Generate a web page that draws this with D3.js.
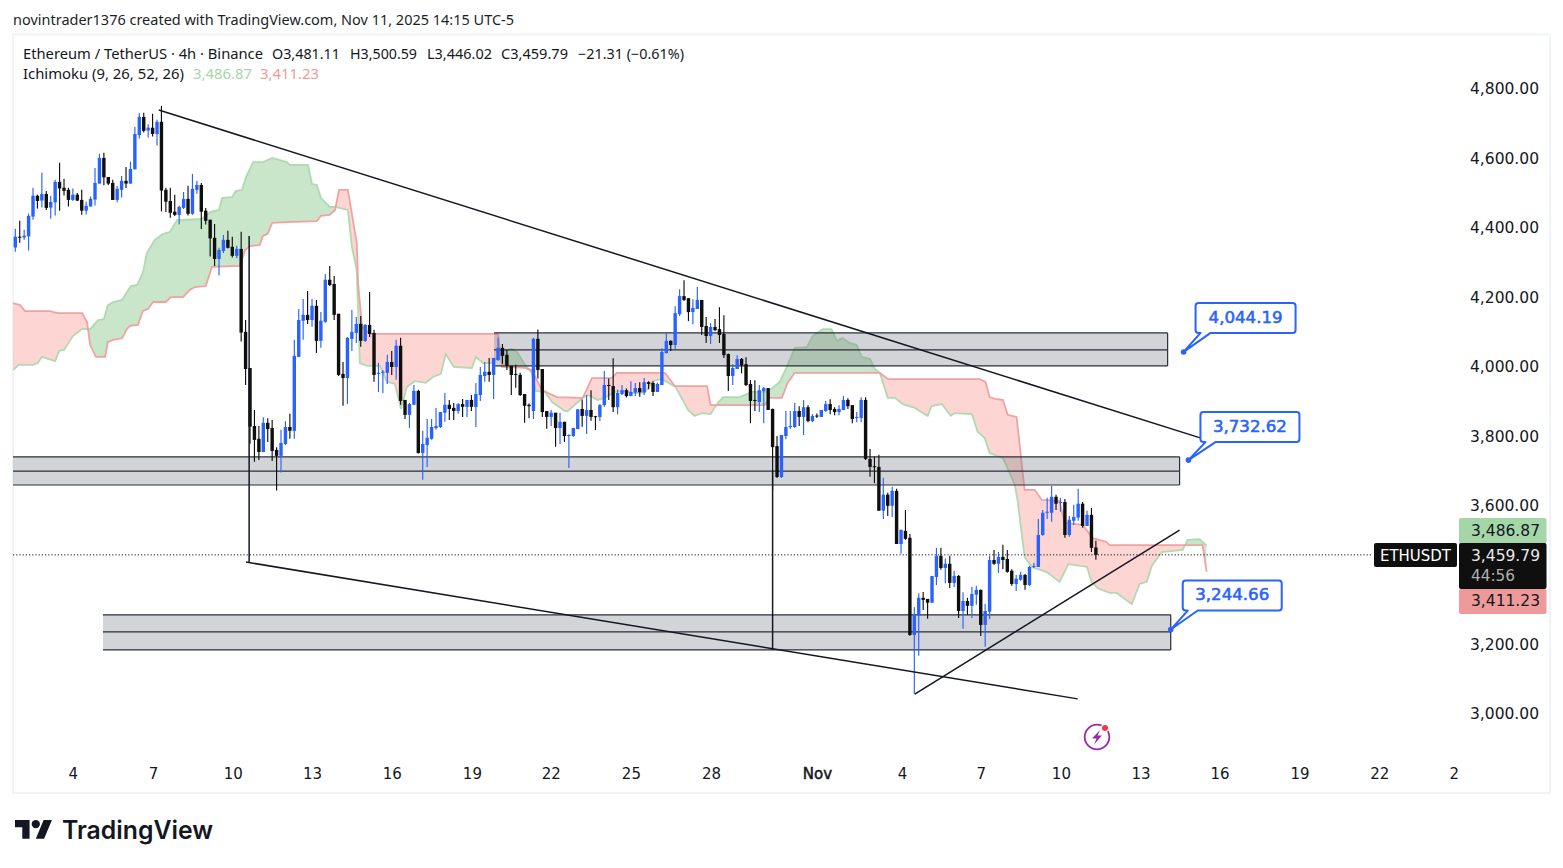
<!DOCTYPE html>
<html><head><meta charset="utf-8">
<script src="https://cdn.jsdelivr.net/npm/d3@7/dist/d3.min.js"></script>
<style>html,body{margin:0;padding:0;background:#fff;overflow:hidden}svg{display:block}</style>
</head><body><svg id="c" width="1563" height="868"></svg>
<script>
const opens=[4345,4376,4374,4377,4434,4494,4480,4499,4460,4475,4534,4517,4511,4482,4497,4482,4451,4463,4483,4529,4603,4548,4531,4482,4511,4537,4529,4570,4669,4721,4682,4690,4672,4707,4511,4479,4448,4439,4459,4485,4442,4511,4525,4451,4425,4373,4312,4335,4367,4347,4321,4341,4102,3998,3831,3794,3756,3840,3825,3762,3745,3779,3828,3817,4030,4134,4151,4136,4177,4076,4131,4252,4240,4154,3981,3969,4082,4099,4125,4076,4122,4099,3981,3984,3984,4015,4001,4062,3906,3863,3892,3932,3753,3776,3794,3825,3828,3869,3892,3883,3874,3894,3886,3906,3886,3920,3975,3987,3978,4021,4056,4036,4004,3981,3978,3923,3892,3874,4082,3995,3874,3857,3869,3825,3843,3802,3802,3822,3880,3860,3877,3859,3857,3891,3949,3946,3885,3923,3934,3917,3927,3940,3928,3957,3955,3929,3949,4041,4076,4064,4153,4205,4199,4159,4168,4194,4119,4090,4116,4110,4096,4038,3975,3995,4024,4009,3952,3906,3900,3931,3940,3880,3773,3684,3802,3828,3828,3874,3857,3885,3845,3861,3857,3874,3894,3880,3871,3877,3906,3891,3854,3854,3906,3736,3715,3713,3587,3633,3601,3644,3491,3529,3509,3229,3285,3336,3333,3322,3396,3457,3422,3434,3379,3399,3298,3327,3313,3345,3359,3258,3296,3445,3434,3454,3448,3414,3376,3388,3402,3373,3425,3425,3517,3581,3581,3627,3610,3612,3517,3558,3567,3607,3543,3575,3481.11];
const highs=[4399,4422,4396,4442,4517,4497,4560,4508,4494,4540,4589,4543,4517,4515,4502,4511,4477,4492,4574,4615,4618,4548,4540,4522,4551,4577,4592,4692,4732,4733,4700,4730,4713,4753,4517,4517,4497,4465,4505,4523,4557,4537,4531,4459,4425,4413,4344,4381,4393,4376,4350,4390,4136,3998,3877,3831,3856,3853,3848,3770,3820,3845,3866,4079,4168,4197,4220,4197,4194,4159,4269,4292,4263,4154,4015,4087,4165,4145,4148,4125,4217,4108,4013,3992,4036,4047,4079,4085,3906,3897,3949,3935,3817,3851,3851,3883,3871,3926,3906,3897,3897,3909,3906,3920,3955,4001,4015,4027,4027,4085,4067,4050,4004,4007,3984,3923,3896,4085,4109,3995,3874,3877,3869,3869,3843,3807,3826,3879,3907,3920,3934,3860,3894,3989,3968,4026,3936,3949,3939,3960,3955,3957,3969,3960,3960,3956,4055,4099,4078,4176,4225,4251,4199,4196,4231,4194,4145,4127,4139,4173,4150,4040,4009,4035,4027,4029,3963,3963,3949,3943,3940,3881,3802,3805,3874,3874,3897,3888,3906,3891,3865,3867,3877,3903,3908,3885,3891,3917,3911,3891,3871,3914,3914,3765,3743,3748,3682,3639,3656,3650,3532,3589,3520,3309,3349,3353,3332,3399,3480,3480,3449,3457,3414,3402,3352,3336,3368,3371,3360,3319,3457,3474,3468,3489,3474,3418,3402,3411,3405,3428,3437,3563,3589,3624,3658,3633,3624,3621,3572,3604,3650,3612,3587,3595,3500.59];
const lows=[4333,4359,4367,4336,4425,4457,4460,4453,4428,4437,4451,4495,4463,4479,4479,4439,4440,4463,4466,4529,4524,4525,4482,4475,4489,4516,4529,4570,4659,4676,4662,4665,4639,4449,4447,4431,4436,4411,4456,4437,4439,4500,4398,4411,4319,4292,4264,4329,4342,4316,4314,4074,3949,3780,3728,3733,3755,3785,3730,3645,3697,3776,3794,3794,4030,4079,4125,4117,4041,4056,4128,4234,4136,3975,3889,3894,4047,4070,4059,4073,4087,3958,3929,3926,3952,3978,3964,3892,3851,3825,3892,3752,3676,3713,3791,3820,3825,3843,3848,3848,3866,3857,3857,3874,3828,3903,3958,3958,3909,4018,4010,3992,3920,3941,3917,3840,3853,3851,3968,3857,3823,3831,3771,3779,3785,3710,3800,3822,3829,3808,3846,3819,3845,3886,3906,3871,3865,3920,3913,3917,3917,3915,3920,3937,3917,3929,3949,4040,4047,4052,4148,4191,4133,4124,4168,4093,4070,4067,4104,4070,4027,3932,3949,3995,3983,3946,3839,3874,3871,3839,3877,3646,3681,3681,3793,3822,3825,3831,3805,3842,3842,3854,3857,3871,3865,3862,3862,3877,3880,3839,3842,3842,3733,3685,3666,3586,3563,3572,3569,3491,3463,3503,3227,3059,3169,3301,3276,3321,3373,3417,3378,3364,3367,3278,3247,3287,3278,3316,3226,3195,3275,3431,3408,3418,3408,3371,3356,3385,3359,3370,3422,3425,3515,3563,3555,3589,3584,3509,3512,3546,3558,3538,3543,3468,3446.02];
const closes=[4376,4374,4379,4436,4494,4479,4499,4459,4476,4534,4515,4508,4482,4497,4480,4451,4465,4485,4531,4603,4547,4529,4482,4514,4537,4529,4571,4672,4721,4681,4690,4672,4707,4509,4477,4445,4439,4462,4485,4442,4514,4525,4448,4422,4371,4312,4338,4367,4344,4321,4341,4100,3995,3829,3791,3756,3840,3822,3759,3745,3782,3828,3817,4033,4136,4151,4136,4177,4076,4134,4252,4237,4151,3978,3969,4085,4102,4125,4076,4122,4096,3978,3984,3987,4015,4001,4062,3903,3863,3894,3932,3753,3779,3797,3828,3831,3871,3892,3880,3874,3894,3886,3906,3886,3923,3978,3987,3978,4027,4056,4033,4004,3978,3978,3920,3889,3888,4082,3992,3871,3857,3869,3825,3843,3802,3805,3825,3879,3860,3877,3857,3857,3891,3949,3946,3885,3926,3934,3917,3929,3940,3928,3957,3952,3929,3952,4044,4076,4064,4156,4205,4194,4159,4171,4194,4116,4090,4116,4107,4093,4035,3975,3998,4024,4006,3949,3903,3903,3934,3940,3877,3770,3684,3805,3828,3831,3874,3857,3885,3845,3860,3860,3877,3894,3877,3871,3880,3906,3888,3851,3857,3906,3736,3713,3713,3587,3633,3601,3644,3491,3532,3506,3229,3287,3336,3330,3322,3399,3457,3422,3434,3379,3399,3298,3327,3313,3347,3359,3258,3298,3445,3434,3454,3445,3411,3376,3391,3402,3373,3425,3428,3517,3581,3584,3627,3607,3612,3517,3561,3569,3607,3543,3575,3480,3459.79];

const spanABars=[0.5,1.8,5,6.1,7,10,10.9,12,14,16.1,17.9,19.7,21,21.9,23.1,25.1,26.2,27.1,28.5,29.8,30.7,32.5,34.3,35.9,37.5,43.1,45,47,47.7,49.9,50.8,52.2,53.1,54.7,56.9,59,62.3,63,67.1,68,69.1,70,72,73.2,76.1,77,78.1,78.8,80.4,83.3,84.9,86.7,88.1,89.4,91.2,93.7,95.3,97.1,98.2,100,104.1,105,106.6,108.8,110,111.1,113.1,114.3,116.1,117.6,118.5,120.6,122.2,125.1,125.8,129.1,130.3,132.5,134.1,136.4,138.2,140.4,143.1,145,146.5,147.4,150.1,152.9,154.4,156,158,159.6,160.8,164.6,167.3,170.7,171.4,173.6,175.2,177,179.7,181.1,183.3,185.3,186.5,187.8,189.4,191,192.1,194,195.1,196.2,198,199.6,201.4,204.1,207,207.9,210.2,212.2,213.1,217,218.3,219.9,221,224,226.7,227.3,228.9,230.5,233.9,236.8,238.8,243,244,245.4,248.1,249.7,253.1,254.9,256.5,257.6,259.9,264.6,265.7,268.4,270];
const spanAValues=[3992,4007,4007,4012,4030,4018,4047,4050,4090,4110,4110,4136,4139,4179,4188,4194,4217,4234,4237,4272,4329,4367,4384,4390,4424,4427,4447,4453,4488,4490,4508,4511,4548,4591,4591,4603,4591,4583,4583,4528,4525,4488,4462,4462,4453,4346,4280,4012,4004,4004,3958,3952,3880,3943,3960,3955,3972,3981,4038,4001,3998,4030,4012,4012,4030,4047,4053,4044,4007,3984,3932,3929,3900,3874,3874,3912,3920,3906,3912,3929,3932,3926,3926,3960,3966,3963,3943,3877,3860,3868,3865,3897,3914,3914,3929,3929,3935,3958,4001,4056,4058,4090,4110,4110,4076,4084,4070,4064,4030,4024,3995,3984,3912,3912,3894,3883,3860,3888,3894,3860,3868,3865,3814,3796,3753,3739,3661,3618,3454,3425,3410,3382,3433,3425,3382,3364,3350,3350,3318,3376,3382,3428,3468,3474,3503,3505,3486.87];
const spanBBars=[0.5,2.1,3.2,8.8,10.6,16.1,17.2,17.9,19.2,21.3,21.9,23.1,25.1,26.2,26.9,28.7,29.8,31,32.1,35,36.1,38.9,40.4,41.6,44,45.4,51.7,52.9,54,56.2,56.9,58,59,62.3,69.1,70,72,73.2,74.1,76.1,78.1,78.4,79.3,81.1,110,110.9,116.1,117.6,119.9,121.3,123.3,129.1,130,131.2,135.7,136.8,147.7,149.9,157.2,158,170.2,171.4,174.1,175.4,177,196.2,198,218.8,220.1,221,222.2,224,225.1,227.1,228.9,231.2,232.8,236.8,237.9,242,244.3,247.4,248.1,269.1,270];
const spanBValues=[4185,4179,4162,4162,4156,4156,4130,4064,4030,4030,4073,4079,4084,4110,4119,4122,4162,4168,4188,4188,4202,4202,4223,4231,4234,4289,4292,4338,4349,4352,4378,4384,4416,4418,4421,4436,4439,4453,4511,4511,4358,4243,4116,4096,4096,4001,3998,3992,3935,3926,3914,3912,3935,3969,3969,3984,3984,3946,3946,3891,3891,3912,3912,3955,3984,3984,3966,3966,3958,3914,3909,3906,3863,3857,3647,3647,3618,3615,3552,3546,3508,3497,3488,3488,3411.23];

const priceTicks=[3000,3200,3600,3800,4000,4200,4400,4600,4800];
const dayTickBars=[14,32.1,50.1,68,86,104.1,121.9,140,158.1,182,201.2,219,237.1,255.1,272.9,291,309,325.8];
const dayTickLabels=["4","7","10","13","16","19","22","25","28","Nov","4","7","10","13","16","19","22","2"];

const zoneBars=[[109.1,261.2],[0.5,263.9],[20.8,261.9]];
const zonePrices=[[4099,4050,4004],[3742,3701,3661],[3287,3238,3186]];
const trendLines=[[33.4,4741,270,3791],[53.1,3439,240.9,3045],[53.8,4378,53.8,3439],[172,3704,172,3186],[204.1,3059,263.9,3531]];
const calloutBars=[264.8,265.9,261.9];
const calloutPrices=[4044.19,3732.62,3244.66];
const lastClose=3459.79, spanALast=3486.87, spanBLast=3411.23;

const FONT='"Noto Sans",sans-serif', AXF='"DejaVu Sans",sans-serif';
const BLUE='#2962ff', BLACK='#0f0f0f';
const x=d3.scaleLinear().domain([1,270]).range([15.3,1206.6]);
const y=d3.scaleLinear().domain([3000,4800]).range([714.5,89.5]);
const svg=d3.select('#c');
svg.append('rect').attr('width',1563).attr('height',868).attr('fill','#fff');
svg.append('rect').attr('x',13).attr('y',34.5).attr('width',1537).attr('height',758.5).attr('fill','none').attr('stroke','#f0f3fa').attr('stroke-width',2);

function T(px,py,s,o={}){
  const t=svg.append('text').attr('x',px).attr('y',py).text(s)
    .attr('font-family',o.f||FONT).attr('font-size',o.s||14).attr('fill',o.c||'#131722')
    .attr('text-anchor',o.a||'start');
  if(o.w)t.attr('font-weight',o.w);
  if(o.sw)t.attr('stroke',o.c).attr('stroke-width',o.sw);
  if(o.len)t.attr('textLength',o.len).attr('lengthAdjust','spacingAndGlyphs');
  return t;
}
T(13,25,'novintrader1376 created with TradingView.com, Nov 11, 2025 14:15 UTC-5',{s:14,len:501,c:'#1c1f28'});
T(23,59,'Ethereum / TetherUS · 4h · Binance',{s:14,len:240});
T(272,59,'O3,481.11',{s:14,len:68});
T(350,59,'H3,500.59',{s:14,len:67});
T(427,59,'L3,446.02',{s:14,len:65});
T(501,59,'C3,459.79',{s:14,len:67});
T(578,59,'−21.31 (−0.61%)',{s:14,len:106});
T(23,79,'Ichimoku (9, 26, 52, 26)',{s:14,len:161});
T(193,79,'3,486.87',{s:14,len:59,c:'#a5d6a7'});
T(260,79,'3,411.23',{s:14,len:59,c:'#ef9a9a'});

const defs=svg.append('defs');
defs.append('clipPath').attr('id','plot').append('rect').attr('x',13).attr('y',36).attr('width',1360).attr('height',720);
const ptsA=spanABars.map((b,i)=>[b,spanAValues[i]]);
const ptsB=spanBBars.map((b,i)=>[b,spanBValues[i]]);
const above=d3.area().x(d=>x(d[0])).y0(0).y1(d=>y(d[1]));
const below=d3.area().x(d=>x(d[0])).y0(868).y1(d=>y(d[1]));
const line=d3.line().x(d=>x(d[0])).y(d=>y(d[1]));
defs.append('clipPath').attr('id','aboveB').append('path').attr('d',above(ptsB));
defs.append('clipPath').attr('id','aboveA').append('path').attr('d',above(ptsA));

const plot=svg.append('g').attr('clip-path','url(#plot)');
plot.append('g').attr('clip-path','url(#aboveB)').append('path').attr('d',below(ptsA)).attr('fill','rgba(165,214,167,0.6)');
plot.append('g').attr('clip-path','url(#aboveA)').append('path').attr('d',below(ptsB)).attr('fill','rgba(244,67,54,0.22)');
plot.append('path').attr('d',line(ptsA)).attr('fill','none').attr('stroke','#a5d6a7').attr('stroke-width',1.8).attr('opacity',.85);
plot.append('path').attr('d',line(ptsB)).attr('fill','none').attr('stroke','#ef9a9a').attr('stroke-width',1.8).attr('opacity',.9);

// zones
const zg=plot.append('g');
zonePrices.forEach((z,i)=>{
  const x0=x(zoneBars[i][0]),x1=x(zoneBars[i][1]);
  zg.append('rect').attr('x',x0).attr('y',y(z[0])).attr('width',x1-x0).attr('height',y(z[2])-y(z[0]))
    .attr('fill','rgba(120,123,134,0.33)');
  z.forEach(p=>zg.append('line').attr('x1',x0).attr('x2',x1).attr('y1',y(p)).attr('y2',y(p)).attr('stroke','#2a2e39').attr('stroke-width',1.2));
  zg.append('line').attr('x1',x1).attr('x2',x1).attr('y1',y(z[0])).attr('y2',y(z[2])).attr('stroke','#2a2e39').attr('stroke-width',1.2);
});

// dotted last price line
plot.append('line').attr('x1',13).attr('x2',1373).attr('y1',y(lastClose)).attr('y2',y(lastClose))
  .attr('stroke','#131722').attr('stroke-width',1).attr('stroke-dasharray','1.2 2');

// candles
const cg=plot.append('g');
d3.range(opens.length).forEach(i=>{
  const cx=x(i+1), up=closes[i]>=opens[i], col=up?BLUE:BLACK;
  cg.append('line').attr('x1',cx).attr('x2',cx).attr('y1',y(highs[i])).attr('y2',y(lows[i])).attr('stroke',col).attr('stroke-width',1.15);
  const t=y(Math.max(opens[i],closes[i])),b=y(Math.min(opens[i],closes[i]));
  cg.append('rect').attr('x',cx-1.7).attr('width',3.4).attr('y',t).attr('height',Math.max(b-t,1)).attr('fill',col);
});

// trend lines
trendLines.forEach(l=>plot.append('line').attr('x1',x(l[0])).attr('y1',y(l[1])).attr('x2',x(l[2])).attr('y2',y(l[3]))
  .attr('stroke','#131722').attr('stroke-width',1.5));

// callouts
const calloutLayout=[[12,112,-49,-19],[12,111,-48,-18],[12,111,-49,-19]];
calloutPrices.forEach((p,i)=>{
  const dx=x(calloutBars[i]),dy=y(p),[l,r,t,b]=calloutLayout[i];
  svg.append('path').attr('d',`M${dx+l+3},${dy+t}H${dx+r-3}Q${dx+r},${dy+t} ${dx+r},${dy+t+3}V${dy+b-3}Q${dx+r},${dy+b} ${dx+r-3},${dy+b}H${dx+27}L${dx},${dy}L${dx+17},${dy+b}H${dx+l+3}Q${dx+l},${dy+b} ${dx+l},${dy+b-3}V${dy+t+3}Q${dx+l},${dy+t} ${dx+l+3},${dy+t}Z`)
    .attr('fill','#fff').attr('stroke',BLUE).attr('stroke-width',2).attr('stroke-linejoin','round');
  svg.append('circle').attr('cx',dx).attr('cy',dy).attr('r',2.8).attr('fill',BLUE);
  T(dx+(l+r)/2,dy+(t+b)/2+4.8,d3.format(',.2f')(p),{f:AXF,s:16,c:BLUE,a:'middle',sw:0.55,len:74});
});

// axes
const yAxis=d3.axisRight(y).tickValues(priceTicks).tickFormat(d3.format(',.2f')).tickSize(0);
const ya=svg.append('g').attr('transform','translate(1470,-0.6)').call(yAxis);
ya.select('.domain').remove();
ya.selectAll('text').attr('x',0).attr('font-family',AXF).attr('font-size',15.5).attr('fill','#131722').attr('text-anchor','start');
const xAxis=d3.axisBottom(x).tickValues(dayTickBars).tickFormat((d,i)=>dayTickLabels[i]).tickSize(0);
const xa=svg.append('g').attr('transform','translate(0,765)').call(xAxis);
xa.select('.domain').remove();
xa.selectAll('text').attr('font-family',AXF).attr('font-size',15).attr('fill','#131722')
  .attr('stroke',(d,i)=>dayTickLabels[i]==='Nov'?'#131722':'none').attr('stroke-width',0.5);

// price tags
function tag(tx,ty,w,h,fill){svg.append('rect').attr('x',tx).attr('y',ty).attr('width',w).attr('height',h).attr('rx',2).attr('fill',fill);}
tag(1459,518,87.5,26,'#a5d6a7');
tag(1459,589,87.5,25,'#ef9a9a');
tag(1459,543,87.5,46,BLACK);
tag(1374,543,83,24,BLACK);
T(1471,536,d3.format(',.2f')(spanALast),{f:AXF,s:15.5,c:'#131722'});
T(1471,606,d3.format(',.2f')(spanBLast),{f:AXF,s:15.5,c:'#131722'});
T(1471,561,d3.format(',.2f')(lastClose),{f:AXF,s:15.5,c:'#e8e8e8'});
T(1471,581,'44:56',{f:AXF,s:15.5,c:'#b0b0b0',len:44});
T(1380,561,'ETHUSDT',{f:AXF,s:15,c:'#fff',len:71});

// lightning icon
const ic=svg.append('g').attr('transform','translate(1097,737)');
ic.append('circle').attr('r',12.3).attr('fill','none').attr('stroke','#9c27b0').attr('stroke-width',1.8);
ic.append('path').attr('d','M3,-7L-5,1.5H-0.5L-3,7.5L5,-1.5H0.5Z').attr('fill','#9c27b0');
ic.append('circle').attr('cx',8).attr('cy',-9).attr('r',4.4).attr('fill','#fff');
ic.append('circle').attr('cx',8).attr('cy',-9).attr('r',3).attr('fill','#f23645');

// logo
const lg=svg.append('g').attr('transform','translate(15,815.8) scale(1.04)').attr('fill','#131722');
lg.append('path').attr('d','M14 22H7V11H0V4h14v18zM28 22h-8l7.5-18h8L28 22z');
lg.append('circle').attr('cx',20).attr('cy',8).attr('r',4);
T(62,839,'TradingView',{f:'Inter,sans-serif',s:25,w:600,len:151,c:'#131722'});
</script></body></html>
